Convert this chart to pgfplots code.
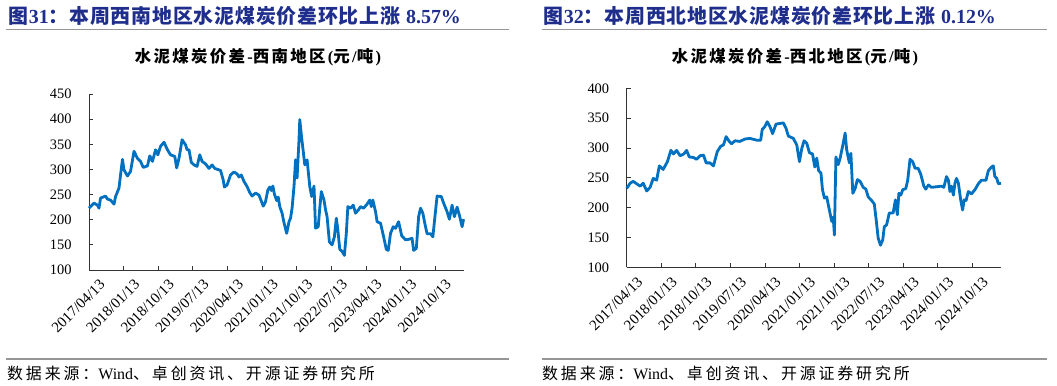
\documentclass[border=0pt]{standalone}
\usepackage{fontspec}
\setmainfont{Liberation Serif}
\newfontfamily\cjk[LetterSpace=4]{Noto Sans CJK SC}
\newfontfamily\cjkt[LetterSpace=14]{Noto Sans CJK SC}
\newfontfamily\cjks[LetterSpace=18]{Noto Sans CJK SC}
\usepackage{pgfplots}
\pgfplotsset{compat=1.18}
\definecolor{hdr}{RGB}{31,46,140}
\definecolor{ln}{RGB}{0,112,192}
\definecolor{rule}{RGB}{150,150,150}
\pgfplotsset{
  base/.style={
    scale only axis,
    anchor=south west,
    xmin=0, xmax=97.5,
    axis x line=bottom, axis y line=left,
    axis line style={-, black!80, line width=0.8bp},
    tick style={black!80, line width=0.8bp},
    tick align=inside,
    major tick length=4bp,
    xtick={0,9,...,90},
    xticklabels={2017/04/13,2018/01/13,2018/10/13,2019/07/13,2020/04/13,2021/01/13,2021/10/13,2022/07/13,2023/04/13,2024/01/13,2024/10/13},
    xticklabel style={rotate=45, anchor=east, inner sep=0pt, yshift=-18bp, xshift=1bp, font=\fontsize{15}{16}\selectfont},
    yticklabel style={xshift=-14bp, font=\fontsize{14.5}{16}\selectfont},
    /pgf/number format/assume math mode=true,
    clip=false,
  }
}
\begin{document}
\begin{tikzpicture}
\path[use as bounding box] (0bp,0bp) rectangle (1057bp,386bp);
% ---------- left panel ----------
\node[anchor=west, inner sep=0pt, text=hdr, font=\fontsize{20}{22}\selectfont] at (8bp,370bp)
  {{\cjk\bfseries 图}\textbf{31}{\cjk\bfseries ：本周西南地区水泥煤炭价差环比上涨} \textbf{8.57\%}};
\draw[rule, line width=1.2bp] (6bp,356.7bp) -- (509bp,356.7bp);
\node[inner sep=0pt, font=\fontsize{16.5}{18}\selectfont] at (258bp,328.5bp)
  {{\cjkt\bfseries 水泥煤炭价差}\textbf{-}{\cjkt\bfseries 西南地区}\textbf{(}{\cjkt\bfseries 元}\textbf{/}{\cjkt\bfseries 吨}\textbf{)}};
\draw[rule, line width=1.2bp] (6bp,27bp) -- (509bp,27bp);
\node[anchor=west, inner sep=0pt, font=\fontsize{16}{18}\selectfont] at (7bp,12.5bp)
  {{\cjks 数据来源：}Wind{\cjks 、卓创资讯、开源证券研究所}};
\begin{axis}[base, at={(89bp,116bp)}, width=375bp, height=176bp,
  ymin=100, ymax=450, ytick={100,150,...,450}]
\addplot[ln, line width=2.8bp, line join=round] coordinates {
(0,223)(1.3,233)(2.2,229)(2.6,223)(3.0,243)(4.3,247)(4.8,241)(5.6,239)(6.5,231)(6.9,246)
(7.8,263)(8.2,289)(8.7,320)(9.1,299)(10.0,287)(10.8,296)(11.7,336)(12.6,322)(13.4,316)(14.1,304)
(15.2,307)(15.8,327)(16.5,316)(17.3,339)(17.9,329)(18.6,346)(19.5,354)(20.4,339)(21.2,329)(22.3,326)
(22.8,303)(23.4,322)(24.2,359)(25.1,349)(25.5,339)(26.0,339)(26.6,314)(27.3,309)(28.1,306)(28.8,329)
(29.4,316)(30.3,311)(31.2,302)(32.0,309)(32.7,302)(34.2,298)(34.9,279)(35.2,265)(35.9,269)(36.8,289)
(37.7,295)(38.5,291)(39.0,285)(39.6,289)(40.3,276)(41.1,266)(41.8,254)(42.4,247)(43.3,253)(44.2,249)
(45.3,227)(45.9,236)(46.5,259)(47.0,265)(47.4,258)(47.8,267)(48.2,251)(48.8,238)(49.2,245)(49.6,226)
(50.2,213)(50.7,194)(51.4,173)(52.0,196)(52.4,203)(52.8,223)(53.3,266)(53.7,319)(54.1,283)(54.6,359)
(54.8,399)(55.3,362)(55.7,336)(56.1,309)(56.7,319)(57.4,266)(57.9,246)(58.5,267)(58.9,183)(59.6,186)
(60.0,223)(60.4,256)(61.1,239)(61.5,220)(61.9,206)(62.5,156)(63.2,150)(63.8,166)(64.3,203)(64.7,180)
(65.2,141)(65.8,137)(66.4,129)(66.9,173)(67.3,226)(68.0,223)(68.7,229)(69.3,213)(70.1,220)(70.6,226)
(71.4,223)(72.3,231)(73.0,239)(73.4,226)(73.8,239)(74.5,216)(74.9,196)(75.8,193)(76.6,166)(77.3,141)
(77.8,139)(78.4,173)(79.1,186)(79.7,183)(80.5,196)(81.3,168)(82.3,160)(83.1,161)(84.0,163)(84.4,139)
(85.1,143)(85.7,206)(86.2,223)(86.8,213)(87.3,193)(87.9,172)(88.8,172)(89.4,166)(89.9,203)(90.5,247)
(91.6,246)(92.2,233)(93.1,216)(93.7,201)(94.4,229)(95.0,206)(95.7,225)(96.4,206)(97.0,186)(97.4,201)
};
\end{axis}
% ---------- right panel ----------
\node[anchor=west, inner sep=0pt, text=hdr, font=\fontsize{20}{22}\selectfont] at (543bp,370bp)
  {{\cjk\bfseries 图}\textbf{32}{\cjk\bfseries ：本周西北地区水泥煤炭价差环比上涨} \textbf{0.12\%}};
\draw[rule, line width=1.2bp] (541.7bp,356.7bp) -- (1046.7bp,356.7bp);
\node[inner sep=0pt, font=\fontsize{16.5}{18}\selectfont] at (795bp,328.5bp)
  {{\cjkt\bfseries 水泥煤炭价差}\textbf{-}{\cjkt\bfseries 西北地区}\textbf{(}{\cjkt\bfseries 元}\textbf{/}{\cjkt\bfseries 吨}\textbf{)}};
\draw[rule, line width=1.2bp] (541.7bp,27bp) -- (1046.7bp,27bp);
\node[anchor=west, inner sep=0pt, font=\fontsize{16}{18}\selectfont] at (542bp,12.5bp)
  {{\cjks 数据来源：}Wind{\cjks 、卓创资讯、开源证券研究所}};
\begin{axis}[base, at={(626.7bp,118.7bp)}, width=374.3bp, height=179bp,
  ymin=100, ymax=400, ytick={100,150,...,400}]
\addplot[ln, line width=2.8bp, line join=round] coordinates {
(0,232)(0.9,241)(1.7,244)(2.6,240)(3.5,236)(4.3,241)(5.2,228)(6.1,234)(6.9,249)(7.8,246)
(8.5,270)(9.5,264)(10.6,277)(11.5,296)(12.2,290)(13.0,296)(13.9,287)(14.9,290)(15.6,296)(16.3,285)
(17.4,284)(18.2,281)(19.1,287)(20.0,288)(20.7,275)(21.7,275)(22.6,270)(23.6,294)(24.5,303)(25.2,305)
(25.9,319)(26.7,311)(27.3,307)(28.2,312)(29.5,311)(30.8,315)(32.1,316)(33.9,313)(34.9,313)(35.3,331)
(36.0,336)(36.6,344)(37.3,336)(38.0,324)(38.9,340)(39.8,341)(40.8,342)(41.5,333)(42.1,320)(43.4,316)
(44.3,305)(45.0,277)(45.6,299)(46.2,312)(46.9,308)(47.6,292)(48.4,290)(49.0,268)(49.5,283)(50.0,262)
(50.6,258)(51.0,230)(51.5,216)(52.1,218)(52.7,199)(53.4,177)(53.8,184)(54.1,154)(54.5,285)(55.1,272)
(55.6,283)(56.4,308)(56.9,325)(57.3,297)(58.0,275)(58.4,291)(58.9,224)(59.5,232)(60.1,247)(60.8,244)
(61.6,234)(62.3,231)(62.9,218)(63.8,212)(64.5,206)(65.0,179)(65.5,149)(66.1,137)(66.7,146)(67.1,168)
(67.7,171)(68.4,191)(69.4,191)(70.0,213)(70.5,188)(70.9,224)(71.4,221)(71.9,230)(72.7,232)(73.2,246)
(73.8,281)(74.5,277)(75.1,266)(75.9,266)(76.6,256)(77.4,236)(77.9,231)(78.6,238)(79.4,234)(80.7,235)
(82.0,236)(82.6,234)(83.3,252)(83.8,246)(84.2,227)(84.6,236)(85.1,221)(85.5,241)(85.9,249)(86.4,241)
(87.0,213)(87.5,196)(87.9,213)(88.4,212)(89.0,227)(89.8,223)(90.7,230)(91.6,240)(92.4,246)(93.6,246)
(94.2,262)(95.0,268)(95.5,270)(95.9,252)(96.4,249)(96.8,240)(97.5,241)
};
\end{axis}
\end{tikzpicture}
\end{document}
